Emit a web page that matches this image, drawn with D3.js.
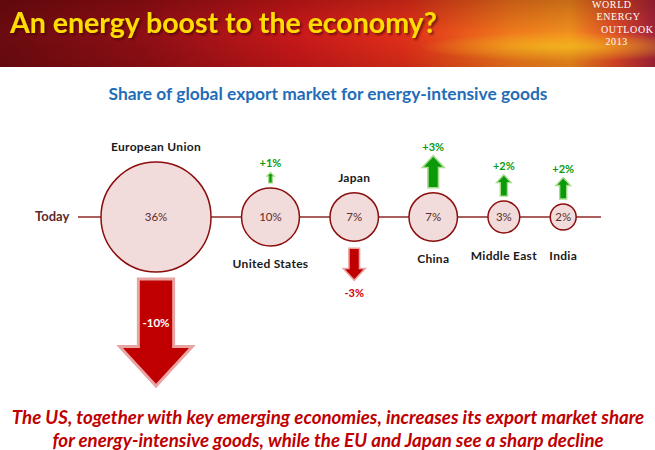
<!DOCTYPE html>
<html><head><meta charset="utf-8">
<script src="https://cdn.jsdelivr.net/npm/d3@7"></script>
<style>body{margin:0;background:#fff} svg{display:block}</style>
</head><body><div id="chart"></div>
<script>
var width = 655, height = 450;

var regions = ["European Union", "United States", "Japan", "China", "Middle East", "India"];
var shareToday = [36, 10, 7, 7, 3, 2];
var shareChange = [-10, 1, -3, 3, 2, 2];
var rowLabel = "Today";
var title = "An energy boost to the economy?";
var subtitle = "Share of global export market for energy-intensive goods";
var brandLines = ["WORLD", "ENERGY", "OUTLOOK", "2013"];
var footnote = ["The US, together with key emerging economies, increases its export market share",
                "for energy-intensive goods, while the EU and Japan see a sharp decline"];

var font = "Lato, 'Open Sans', sans-serif";

var svg = d3.select("#chart").append("svg")
    .attr("width", width)
    .attr("height", height);

var defs = svg.append("defs");

// banner background
var lg = defs.append("linearGradient").attr("id", "banner");
[[0, "#6a0b10"], [0.22, "#8e0f15"], [0.45, "#c8181a"], [0.62, "#e2301a"],
 [0.78, "#f07a1c"], [0.87, "#f2901e"], [0.94, "#df4a26"], [1, "#a3233c"]].forEach(function(s) {
  lg.append("stop").attr("offset", s[0]).attr("stop-color", s[1]);
});
var rg = defs.append("radialGradient").attr("id", "glow")
    .attr("cx", 0.86).attr("cy", 0.7).attr("r", 0.22);
rg.append("stop").attr("offset", 0).attr("stop-color", "#ffc41f").attr("stop-opacity", 0.85);
rg.append("stop").attr("offset", 1).attr("stop-color", "#ffc41f").attr("stop-opacity", 0);
var vg = defs.append("linearGradient").attr("id", "shade").attr("x2", 0).attr("y2", 1);
vg.append("stop").attr("offset", 0).attr("stop-color", "#400000").attr("stop-opacity", 0.25);
vg.append("stop").attr("offset", 0.5).attr("stop-color", "#400000").attr("stop-opacity", 0);
vg.append("stop").attr("offset", 1).attr("stop-color", "#400000").attr("stop-opacity", 0.15);

var shadow = defs.append("filter").attr("id", "tshadow")
    .attr("x", -0.05).attr("y", -0.2).attr("width", 1.1).attr("height", 1.5);
shadow.append("feDropShadow")
    .attr("dx", 2).attr("dy", 2).attr("stdDeviation", 1)
    .attr("flood-color", "#3a0000").attr("flood-opacity", 0.6);

svg.append("rect").attr("width", width).attr("height", 67).attr("fill", "url(#banner)");
svg.append("rect").attr("width", width).attr("height", 67).attr("fill", "url(#glow)");
svg.append("rect").attr("width", width).attr("height", 67).attr("fill", "url(#shade)");

svg.append("text")
    .attr("x", 10).attr("y", 33)
    .style("font", "bold 28.5px " + font)
    .attr("fill", "#ffdd00")
    .attr("filter", "url(#tshadow)")
    .text(title);

svg.append("g").selectAll("text")
  .data(brandLines)
  .enter()
  .append("text")
    .attr("x", function(d, i) { return 592 + i * 4.5; })
    .attr("y", function(d, i) { return 8 + i * 12.3; })
    .style("font", "10px 'Liberation Serif', serif")
    .style("letter-spacing", "0.6px")
    .attr("fill", "#fff")
    .text(function(d) { return d; });

// subtitle
svg.append("text")
    .attr("x", 328).attr("y", 100)
    .attr("text-anchor", "middle")
    .style("font", "bold 17.4px " + font)
    .attr("fill", "#1f6db8")
    .text(subtitle);

// bubbles
var cy = 217, gap = 30.5, startX = 101;
var r = d3.scaleSqrt().domain([0, 36]).range([0, 55]);
var arrowLen = d3.scaleLinear().domain([0, 10]).range([0, 107]);

var data = regions.map(function(name, i) {
  return { name: name, share: shareToday[i], change: shareChange[i] };
});
var cursor = startX;
data.forEach(function(d) {
  d.r = r(d.share);
  d.cx = cursor + d.r;
  cursor += 2 * d.r + gap;
});

svg.append("line")
    .attr("x1", 78).attr("x2", 601)
    .attr("y1", cy).attr("y2", cy)
    .attr("stroke", "#8e2a2a").attr("stroke-width", 1.3);

svg.append("text")
    .attr("x", 35).attr("y", cy + 4)
    .style("font", "bold 13px " + font)
    .attr("fill", "#5e2a2a")
    .text(rowLabel);

var g = svg.append("g");

g.selectAll("circle")
  .data(data)
  .enter()
  .append("circle")
    .attr("cx", function(d) { return d.cx; })
    .attr("cy", cy)
    .attr("r", function(d) { return d.r; })
    .attr("fill", "#f2dcdb")
    .attr("stroke", "#8b0e0e")
    .attr("stroke-width", 1.5);

g.selectAll(".share")
  .data(data)
  .enter()
  .append("text")
    .attr("class", "share")
    .attr("x", function(d) { return d.cx; })
    .attr("y", cy + 4)
    .attr("text-anchor", "middle")
    .style("font", "11.5px " + font)
    .attr("fill", "#5a2d2d")
    .text(function(d) { return d.share + "%"; });

// region names: above when the arrow goes down, below otherwise
g.selectAll(".name")
  .data(data)
  .enter()
  .append("text")
    .attr("class", "name")
    .attr("x", function(d) { return d.cx; })
    .attr("y", function(d) {
      return d.change < 0 ? cy - d.r - 11 : Math.max(cy + d.r + 22, cy + 43);
    })
    .attr("text-anchor", "middle")
    .style("font", "bold 12px " + font)
    .style("letter-spacing", "0.3px")
    .attr("fill", "#1a1a1a")
    .text(function(d) { return d.name; });

// arrows
function arrowPath(x, base, L, dir) {
  var sw = 0.33 * L, hw = 0.68 * L, hl = 0.37 * L;
  var neck = base + dir * (L - hl), tip = base + dir * L;
  return "M" + (x - sw / 2) + "," + base +
         "L" + (x + sw / 2) + "," + base +
         "L" + (x + sw / 2) + "," + neck +
         "L" + (x + hw / 2) + "," + neck +
         "L" + x + "," + tip +
         "L" + (x - hw / 2) + "," + neck +
         "L" + (x - sw / 2) + "," + neck + "Z";
}

data.forEach(function(d) {
  var L = arrowLen(Math.abs(d.change));
  var up = d.change > 0;
  var dir = up ? -1 : 1;
  var base = up ? cy - d.r - 5 : cy + d.r + 7;
  var tip = base + dir * L;
  g.append("path")
      .attr("d", arrowPath(d.cx, base, L, dir))
      .attr("fill", up ? "#0a9a0a" : "#c00000")
      .attr("stroke", up ? "#a6dc8a" : "#e8a3a3")
      .attr("stroke-width", 1 + L / 55)
      .attr("stroke-linejoin", "miter");
  var lbl = (up ? "+" : "") + d.change + "%";
  var t = g.append("text")
      .attr("x", d.cx)
      .attr("text-anchor", "middle")
      .style("font", "bold 11px " + font)
      .text(lbl);
  if (L > 60) {
    t.attr("y", base + L * 0.45).attr("fill", "#fff").style("font-size", "11.5px");
  } else if (up) {
    t.attr("y", tip - 5).attr("fill", "#0a9a0a");
  } else {
    t.attr("y", tip + 17).attr("fill", "#d40000");
  }
});

// footnote
svg.append("g").selectAll("text")
  .data(footnote)
  .enter()
  .append("text")
    .attr("x", 328)
    .attr("y", function(d, i) { return 424 + i * 23; })
    .attr("text-anchor", "middle")
    .style("font", "italic bold 18.7px " + font)
    .attr("fill", "#c00000")
    .text(function(d) { return d; });
</script>
</body></html>
